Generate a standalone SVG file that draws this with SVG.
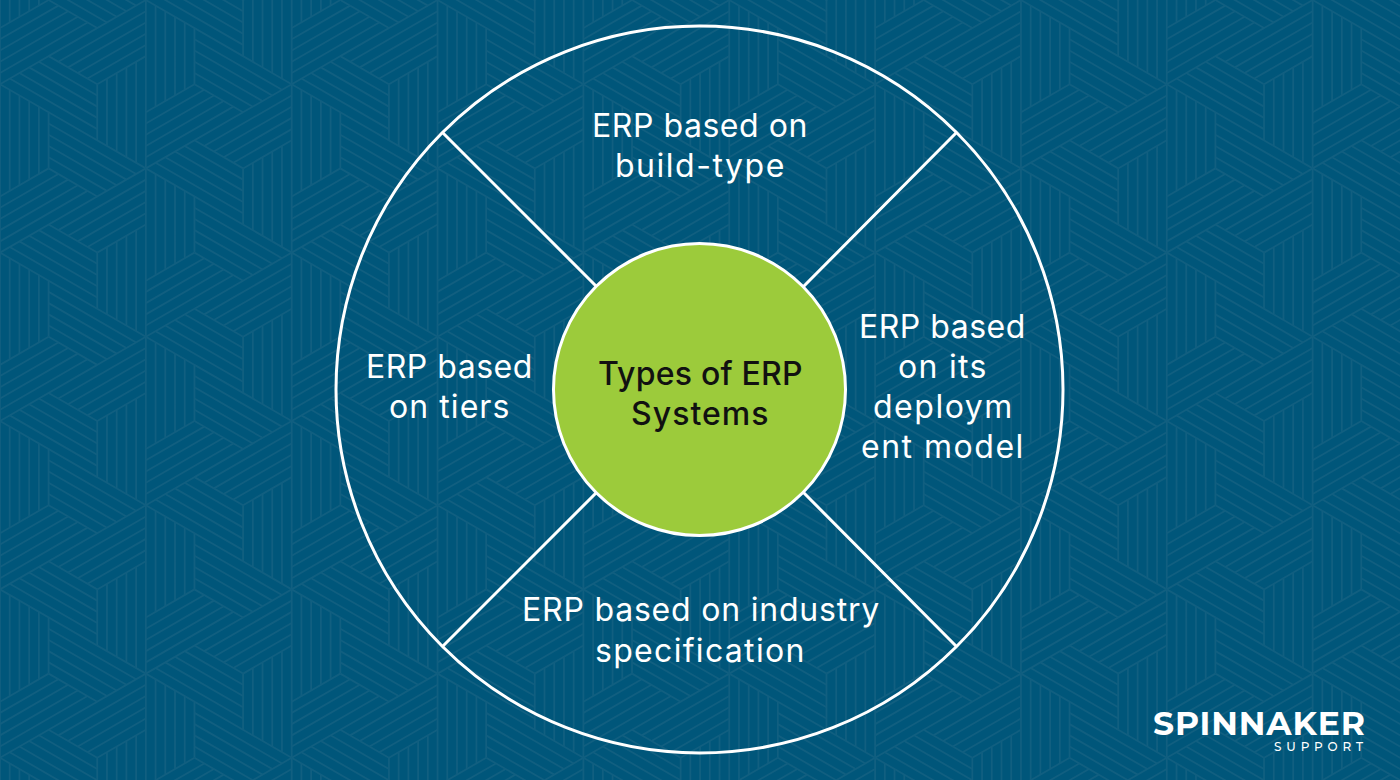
<svg xmlns="http://www.w3.org/2000/svg" width="1400" height="780" viewBox="0 0 1400 780">
<style>
.stripe{fill:none;stroke:#115f80;stroke-width:1.8}
.ring{fill:none;stroke:#fff;stroke-width:3}
.spoke{stroke:#fff;stroke-width:3;fill:none}
.lab{font-family:"Inter","Liberation Sans",sans-serif;font-size:32px;letter-spacing:.65px;fill:#fff;text-anchor:middle}
.hub{font-family:"Inter","Liberation Sans",sans-serif;font-size:32px;letter-spacing:.45px;font-weight:500;fill:#111;text-anchor:middle}
</style>
<defs>
<path id="v" d="M145.85 0V112.27M155.57 5.61V106.66M165.29 11.23V101.04M175.02 16.84V95.43M184.74 22.45V89.82M194.46 28.07V84.2M97.23 84.2V140.33M106.96 78.59V145.95M116.68 72.97V151.56M126.4 67.36V157.17M136.12 61.75V162.79M145.85 56.13V168.4"/>
<g id="cell"><use href="#v"/><use href="#v" transform="rotate(120 145.85 168.4)"/><use href="#v" transform="rotate(240 145.85 168.4)"/></g>
<g id="col"><use href="#cell" y="-336.8"/><use href="#cell" y="-168.4"/><use href="#cell"/><use href="#cell" y="168.4"/><use href="#cell" y="336.8"/><use href="#cell" y="505.2"/><use href="#cell" y="673.6"/></g>
</defs>
<rect width="1400" height="780" fill="#00567a"/>
<g id="background-pattern" class="stripe">
<use href="#col" x="-291.7"/><use href="#col" x="-145.85" y="84.2"/><use href="#col"/><use href="#col" x="145.85" y="84.2"/><use href="#col" x="291.7"/><use href="#col" x="437.55" y="84.2"/><use href="#col" x="583.4"/><use href="#col" x="729.25" y="84.2"/><use href="#col" x="875.1"/><use href="#col" x="1020.95" y="84.2"/><use href="#col" x="1166.8"/><use href="#col" x="1312.65" y="84.2"/><use href="#col" x="1458.5"/>
</g>
<g id="connectors">
<path class="spoke" d="M443 133L597 287M956 133L803 287M443 646L597 492M956 646L803 492"/>
</g>
<g id="outer-ring"><circle class="ring" cx="699.5" cy="389.5" r="363.5"/></g>
<g id="node-build"><text class="lab" x="700" y="137" textLength="216">ERP based on</text><text class="lab" x="700" y="177" textLength="170">build-type</text></g>
<g id="node-deployment"><text class="lab" x="942.5" y="338" textLength="167">ERP based</text><text class="lab" x="942.5" y="378" textLength="89">on its</text><text class="lab" x="943" y="418" textLength="140">deploym</text><text class="lab" x="942.5" y="458" textLength="163">ent model</text></g>
<g id="node-tiers"><text class="lab" x="449.5" y="378" textLength="167">ERP based</text><text class="lab" x="449.5" y="418" textLength="121">on tiers</text></g>
<g id="node-industry"><text class="lab" x="701" y="621" textLength="358">ERP based on industry</text><text class="lab" x="700" y="662" textLength="210">specification</text></g>
<g id="node-center"><circle cx="699.5" cy="389.5" r="146" fill="#9ccb3b" stroke="#fff" stroke-width="3"/><text class="hub" x="700.5" y="385" textLength="205">Types of ERP</text><text class="hub" x="700" y="425" textLength="138">Systems</text></g>
<g id="logo" fill="#fff" font-family="Montserrat,Inter,'Liberation Sans',sans-serif">
<text x="1153" y="735" font-size="33" font-weight="700" textLength="212" lengthAdjust="spacing">SPINNAKER</text>
<text x="1274" y="751" font-size="12" font-weight="500" textLength="89" lengthAdjust="spacing">SUPPORT</text>
</g>
</svg>
